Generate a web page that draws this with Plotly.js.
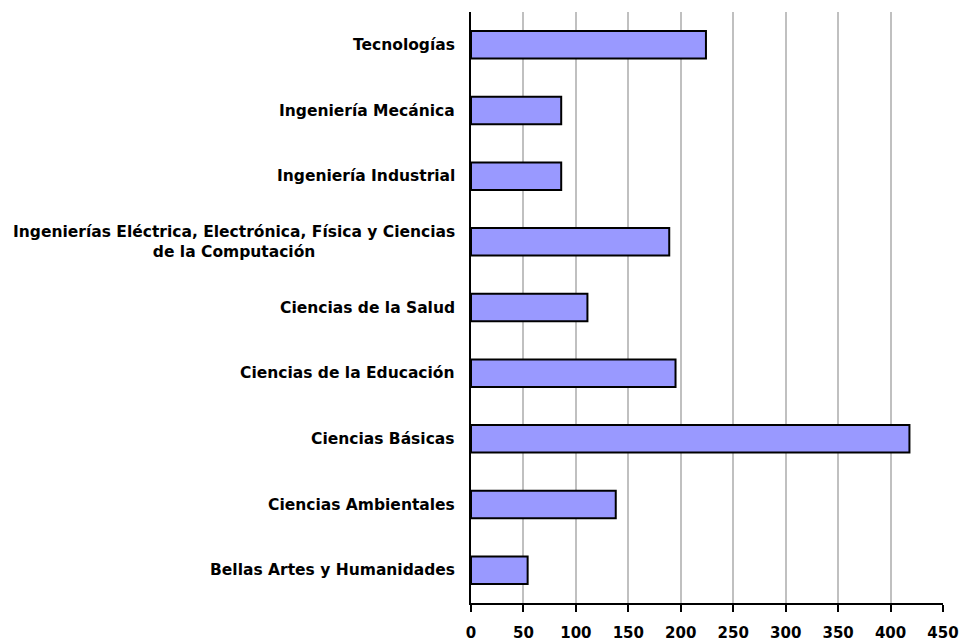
<!DOCTYPE html>
<html>
<head>
<meta charset="utf-8">
<script src="https://cdn.plot.ly/plotly-3.0.1.min.js"></script>
<style>html,body{margin:0;padding:0;background:#fff;}#chart{width:961px;height:641px;}</style>
</head>
<body>
<div id="chart"></div>
<script>
const categories = [
  "Bellas Artes y Humanidades",
  "Ciencias Ambientales",
  "Ciencias Básicas",
  "Ciencias de la Educación",
  "Ciencias de la Salud",
  "Ingenierías Eléctrica, Electrónica, Física y Ciencias<br>de la Computación",
  "Ingeniería Industrial",
  "Ingeniería Mecánica",
  "Tecnologías"
];
const values = [54, 138, 418, 195, 111, 189, 86, 86, 224];
const xTicks = [0, 50, 100, 150, 200, 250, 300, 350, 400, 450];

const font = {family: "DejaVu Sans", size: 15.5, color: "#000", weight: "bold"};

const trace = {
  type: "bar",
  orientation: "h",
  y: categories,
  x: values,
  marker: {color: "#9999ff", line: {color: "#000", width: 2}},
  hoverinfo: "none"
};

const annotations = categories.map(c => ({
  xref: "paper", yref: "y", x: 0, y: c,
  xanchor: "right", yanchor: "middle", xshift: -14,
  text: c, showarrow: false, align: "center",
  font: font
}));

const layout = {
  width: 961, height: 641,
  margin: {l: 471, r: 18, t: 12, b: 38, pad: 0},
  paper_bgcolor: "#fff", plot_bgcolor: "#fff",
  showlegend: false,
  bargap: 0.58,
  font: font,
  xaxis: {
    range: [0, 450], tickvals: xTicks, ticktext: xTicks.map(String),
    showgrid: true, gridcolor: "#c0c0c0", gridwidth: 2,
    zeroline: false, showline: true, linecolor: "#000", linewidth: 2,
    ticks: "outside", ticklen: 7, tickwidth: 2, tickcolor: "#000",
    ticklabelstandoff: 8,
    tickfont: {family: "DejaVu Sans", size: 15, color: "#000", weight: "bold"},
    fixedrange: true
  },
  yaxis: {
    type: "category", categoryorder: "array", categoryarray: categories,
    showticklabels: false, showgrid: false, zeroline: false,
    showline: true, linecolor: "#000", linewidth: 2, ticks: "", fixedrange: true
  },
  annotations: annotations
};

Plotly.newPlot("chart", [trace], layout, {displayModeBar: false, staticPlot: true});
</script>
</body>
</html>
